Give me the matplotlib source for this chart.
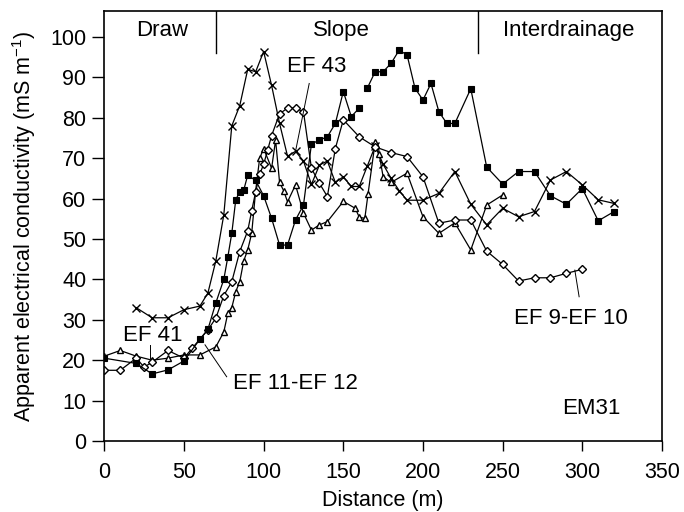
import matplotlib.pyplot as plt
import numpy as np

plt.rcParams['font.family'] = ['Liberation Sans', 'DejaVu Sans']
plt.rcParams['mathtext.fontset'] = 'custom'
plt.rcParams['mathtext.rm'] = 'Liberation Sans'

# ---- data (distance m, conductivity mS/m) ----
ef43_x = [20, 30, 40, 50, 60, 65, 70, 75, 80, 85, 90, 95, 100, 105, 110, 115, 120, 125,
          130, 135, 140, 145, 150, 155, 160, 165, 170, 175, 180, 185, 190, 200, 210, 220,
          230, 240, 250, 260, 270, 280, 290, 300, 310, 320]
ef43_y = [33, 30.5, 30.5, 32.5, 33.4, 36.6, 44.6, 56, 78, 83, 92, 91.4, 96.4, 88, 78.6, 70.5,
          71.7, 69.3, 63.5, 68.3, 69.3, 64, 65.4, 63, 63, 68, 73, 68.5, 65, 62, 59.6, 59.6,
          61.3, 66.7, 58.6, 53.5, 57.6, 55.5, 56.8, 64.6, 66.7, 63.4, 59.7, 58.8]

ef1112_x = [0, 20, 30, 40, 50, 60, 65, 70, 75, 77.5, 80, 82.5, 85, 87.5, 90, 95, 100, 105,
            110, 115, 120, 125, 130, 135, 140, 145, 150, 155, 160, 162, 165, 170, 175, 180,
            185, 190, 195, 200, 205, 210, 215, 220, 230, 240, 250, 260, 270, 280, 290, 300,
            310, 320]
ef1112_y = [20.5, 19.2, 16.6, 17.6, 19.8, 25.2, 27.6, 34.2, 40, 45.5, 51.4, 59.7, 61.7, 62.1,
            65.8, 64.5, 60.7, 55.1, 48.5, 48.5, 54.7, 58.4, 73.5, 74.5, 75.3, 78.6, 86.5, 80.3,
            82.4, np.nan, 87.3, 91.4, 91.4, 93.5, 96.7, 95.6, 87.3, 84.4, 88.5, 81.5, 78.6,
            78.6, 87.2, 67.8, 63.6, 66.7, 66.7, 60.7, 58.6, 62.5, 54.5, 56.8]

ef910_x = [0, 10, 20, 25, 30, 40, 50, 55, 65, 70, 75, 80, 85, 90, 92.5, 95, 97.5, 100, 102.5,
           105, 110, 115, 120, 125, 130, 135, 140, 145, 150, 160, 170, 180, 190, 200, 210,
           220, 230, 240, 250, 260, 270, 280, 290, 300]
ef910_y = [17.5, 17.5, 20.5, 18.3, 19.5, 22.4, 20.5, 22.9, 27.5, 30.4, 36, 39.4, 46.9, 52, 57,
           61.7, 66, 68.5, 72, 75.6, 81, 82.4, 82.4, 81.5, 67.5, 63.8, 60.5, 72.4, 79.5, 75.3,
           72.8, 71.4, 70.4, 65.4, 53.9, 54.7, 54.7, 47, 43.7, 39.6, 40.4, 40.4, 41.5, 42.5]

ef41_x = [0, 10, 20, 30, 40, 50, 60, 70, 75, 77.5, 80, 82.5, 85, 87.5, 90, 92.5, 95, 97.5,
          100, 105, 107.5, 110, 112.5, 115, 120, 125, 130, 135, 140, 150, 157.5, 160, 163.5,
          165.5, 170, 172.5, 175, 180, 190, 200, 210, 220, 230, 240, 250]
ef41_y = [21, 22.4, 21, 20, 20.5, 21.3, 21.3, 23.3, 27, 31.6, 33, 37, 39.4, 44.6, 47.3, 51.4,
          62, 70, 72.4, 67.5, 74.5, 64, 62, 59.2, 63.4, 56.4, 52.2, 53.5, 54.3, 59.3, 57.6,
          55.4, 55.1, 61.1, 74, 71, 65.4, 64, 66.3, 55.5, 51.4, 54, 47.3, 58.4, 60.9]

zones = ['Draw', 'Slope', 'Interdrainage']
zone_centers = [36.5, 148.5, 291.5]
zone_breaks = [70, 234.5]

# ---- figure ----
fig = plt.figure(figsize=(6.84, 5.12), dpi=100)
ax = fig.add_axes([0.1525, 0.1387, 0.8153, 0.8403])

lw = 0.9
ax.plot(ef43_x, ef43_y, color='black', lw=lw, marker='x', ms=5.5, mew=1.0)
ax.plot(ef41_x, ef41_y, color='black', lw=lw, marker='^', ms=5, mfc='white', mew=1.0)
ax.plot(ef910_x, ef910_y, color='black', lw=lw, marker='D', ms=4, mfc='white', mew=1.0)
ax.plot(ef1112_x, ef1112_y, color='black', lw=lw, marker='s', ms=4.5, mfc='black', mew=0.8)

ax.set_xlim(0, 350)
ax.set_ylim(0, 106.5)
ax.set_xticks(np.arange(0, 351, 50))
ax.set_yticks(np.arange(0, 101, 10))
ax.tick_params(axis='x', direction='out', length=7, width=1, labelsize=15.5, pad=8)
ax.tick_params(axis='y', direction='out', length=9, width=1, labelsize=15.5, pad=4)
for s in ax.spines.values():
    s.set_linewidth(1.2)

ax.set_xlabel('Distance (m)', fontsize=15.5, labelpad=5)
ax.set_ylabel(r'Apparent electrical conductivity (mS m$^{\mathrm{-1}}$)', fontsize=15.5,
              labelpad=9)

# zone headers
for name, xc in zip(zones, zone_centers):
    ax.text(xc, 101.5, name, ha='center', va='center', fontsize=16)
for xb in zone_breaks:
    ax.plot([xb, xb], [96, 106.5], color='black', lw=1)

# series labels with leader lines
ax.text(133.5, 92.7, 'EF 43', ha='center', va='center', fontsize=16)
ax.plot([128.6, 120], [88.5, 71.7], color='black', lw=0.7)
ax.text(30.7, 26.2, 'EF 41', ha='center', va='center', fontsize=16)
ax.plot([28.6, 28.6], [23.8, 20.5], color='black', lw=0.7)
ax.text(120.2, 14.3, 'EF 11-EF 12', ha='center', va='center', fontsize=16)
ax.plot([76.8, 63.2], [15.9, 23.8], color='black', lw=0.7)
ax.text(292.7, 30.4, 'EF 9-EF 10', ha='center', va='center', fontsize=16)
ax.plot([298, 295.3], [35.7, 42.3], color='black', lw=0.7)
ax.text(305.8, 8.1, 'EM31', ha='center', va='center', fontsize=16)

fig.savefig('out.png', dpi=100)
